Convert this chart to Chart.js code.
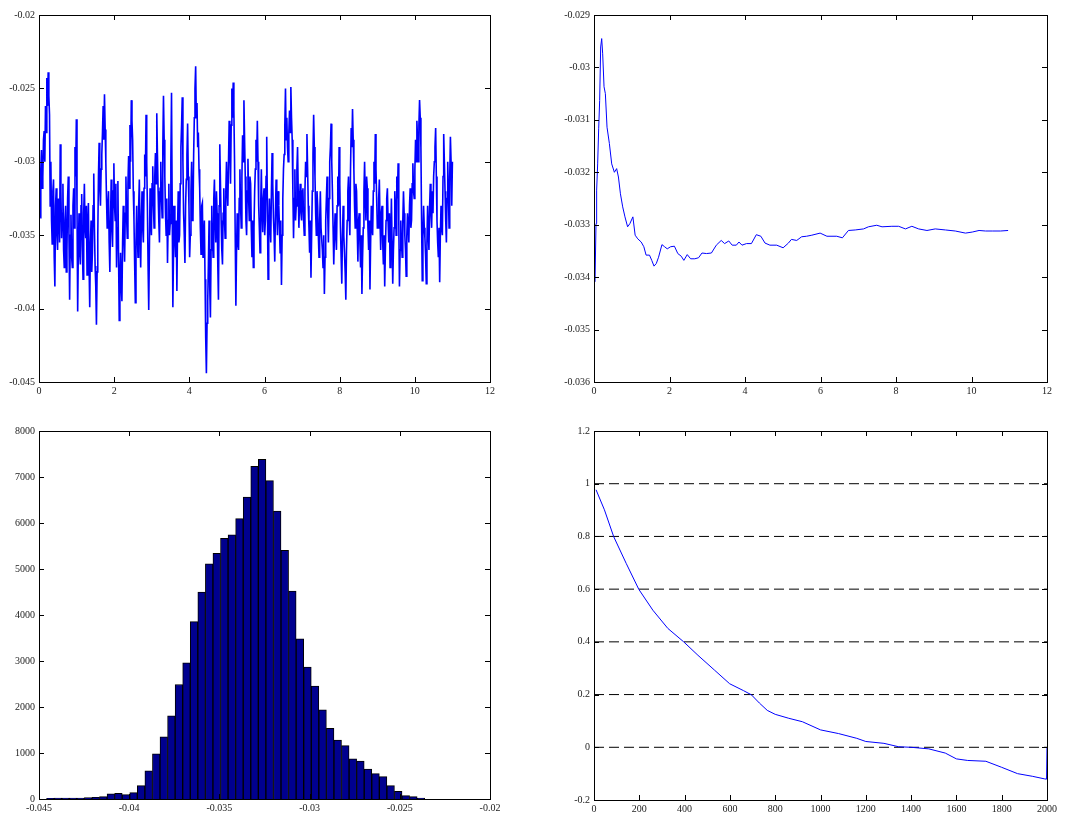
<!DOCTYPE html>
<html>
<head>
<meta charset="utf-8">
<title>MCMC diagnostics</title>
<script src="https://cdn.jsdelivr.net/npm/chart.js@4.4.1/dist/chart.umd.min.js"></script>
<style>
    body { margin: 0; background: #fff; }
    canvas { position: absolute; }
</style>
</head>
<body>
<canvas id="trace_chart" width="539" height="408" style="left:0;top:0"></canvas>
<canvas id="mean_chart" width="538" height="408" style="left:540px;top:0"></canvas>
<canvas id="hist_chart" width="539" height="408" style="left:0;top:408px"></canvas>
<canvas id="acf_chart" width="538" height="408" style="left:540px;top:408px"></canvas>
<script>
// trace of the chain (x in thousands of iterations)
var traceStart = 0.03, traceEnd = 11.0;
var traceValues = [
    -0.0338, -0.0305, -0.0292, -0.0318, -0.0310, -0.0285, -0.0279, -0.0300, -0.0262, -0.0280, -0.0243, -0.0262, -0.0239, -0.0255, -0.0268, -0.0330, -0.0300, -0.0340, -0.0356, -0.0320, -0.0312, -0.0365, -0.0385, -0.0330, -0.0318, -0.0350, -0.0360, -0.0325,
    -0.0330, -0.0355, -0.0288, -0.0320, -0.0352, -0.0335, -0.0315, -0.0360, -0.0372, -0.0340, -0.0330, -0.0375, -0.0361, -0.0325, -0.0310, -0.0350, -0.0394, -0.0350, -0.0336, -0.0365, -0.0372, -0.0330, -0.0318, -0.0345, -0.0290, -0.0310, -0.0271, -0.0330,
    -0.0402, -0.0360, -0.0335, -0.0362, -0.0370, -0.0330, -0.0322, -0.0358, -0.0380, -0.0335, -0.0315, -0.0345, -0.0352, -0.0330, -0.0377, -0.0345, -0.0328, -0.0370, -0.0399, -0.0355, -0.0340, -0.0375, -0.0362, -0.0330, -0.0308, -0.0345, -0.0371, -0.0385,
    -0.0411, -0.0375, -0.0350, -0.0310, -0.0287, -0.0318, -0.0330, -0.0305, -0.0295, -0.0280, -0.0262, -0.0285, -0.0254, -0.0278, -0.0300, -0.0325, -0.0345, -0.0330, -0.0320, -0.0355, -0.0375, -0.0340, -0.0312, -0.0345, -0.0358, -0.0320, -0.0301, -0.0330,
    -0.0340, -0.0315, -0.0372, -0.0345, -0.0313, -0.0365, -0.0408, -0.0380, -0.0362, -0.0385, -0.0395, -0.0355, -0.0330, -0.0350, -0.0368, -0.0335, -0.0310, -0.0338, -0.0352, -0.0315, -0.0296, -0.0318, -0.0275, -0.0300, -0.0258, -0.0272, -0.0285, -0.0320,
    -0.0340, -0.0370, -0.0396, -0.0355, -0.0330, -0.0350, -0.0365, -0.0330, -0.0312, -0.0345, -0.0372, -0.0340, -0.0320, -0.0345, -0.0355, -0.0318, -0.0295, -0.0310, -0.0268, -0.0300, -0.0330, -0.0370, -0.0401, -0.0360, -0.0318, -0.0340, -0.0350, -0.0315,
    -0.0303, -0.0330, -0.0345, -0.0310, -0.0294, -0.0315, -0.0267, -0.0295, -0.0320, -0.0340, -0.0355, -0.0318, -0.0300, -0.0325, -0.0338, -0.0290, -0.0255, -0.0285, -0.0310, -0.0335, -0.0350, -0.0325, -0.0369, -0.0340, -0.0315, -0.0350, -0.0342, -0.0300,
    -0.0253, -0.0330, -0.0399, -0.0360, -0.0330, -0.0350, -0.0365, -0.0340, -0.0388, -0.0345, -0.0320, -0.0355, -0.0350, -0.0315, -0.0290, -0.0275, -0.0256, -0.0300, -0.0335, -0.0350, -0.0369, -0.0330, -0.0312, -0.0295, -0.0274, -0.0310, -0.0330, -0.0365,
    -0.0350, -0.0320, -0.0300, -0.0340, -0.0338, -0.0295, -0.0270, -0.0250, -0.0235, -0.0270, -0.0260, -0.0290, -0.0280, -0.0305, -0.0318, -0.0345, -0.0363, -0.0330, -0.0328, -0.0365, -0.0355, -0.0340, -0.0380, -0.0420, -0.0444, -0.0410, -0.0395, -0.0370,
    -0.0340, -0.0385, -0.0406, -0.0360, -0.0330, -0.0350, -0.0365, -0.0325, -0.0312, -0.0340, -0.0355, -0.0320, -0.0335, -0.0370, -0.0394, -0.0330, -0.0288, -0.0315, -0.0340, -0.0360, -0.0370, -0.0335, -0.0318, -0.0340, -0.0352, -0.0320, -0.0300, -0.0320,
    -0.0330, -0.0300, -0.0272, -0.0290, -0.0315, -0.0275, -0.0250, -0.0270, -0.0246, -0.0265, -0.0300, -0.0350, -0.0398, -0.0360, -0.0335, -0.0355, -0.0360, -0.0325, -0.0305, -0.0330, -0.0345, -0.0310, -0.0282, -0.0300, -0.0258, -0.0285, -0.0310, -0.0340,
    -0.0350, -0.0320, -0.0298, -0.0325, -0.0340, -0.0310, -0.0315, -0.0345, -0.0365, -0.0340, -0.0372, -0.0345, -0.0320, -0.0305, -0.0285, -0.0300, -0.0272, -0.0300, -0.0330, -0.0345, -0.0362, -0.0330, -0.0305, -0.0335, -0.0348, -0.0325, -0.0318, -0.0350,
    -0.0340, -0.0310, -0.0283, -0.0330, -0.0380, -0.0350, -0.0325, -0.0345, -0.0355, -0.0320, -0.0294, -0.0315, -0.0338, -0.0350, -0.0368, -0.0335, -0.0312, -0.0330, -0.0350, -0.0320, -0.0330, -0.0345, -0.0362, -0.0340, -0.0384, -0.0350, -0.0325, -0.0305,
    -0.0295, -0.0275, -0.0250, -0.0285, -0.0270, -0.0290, -0.0300, -0.0280, -0.0265, -0.0280, -0.0249, -0.0270, -0.0285, -0.0320, -0.0352, -0.0325, -0.0305, -0.0340, -0.0330, -0.0305, -0.0290, -0.0320, -0.0345, -0.0325, -0.0315, -0.0335, -0.0340, -0.0320,
    -0.0318, -0.0340, -0.0350, -0.0320, -0.0300, -0.0310, -0.0281, -0.0305, -0.0330, -0.0345, -0.0362, -0.0340, -0.0379, -0.0350, -0.0320, -0.0295, -0.0268, -0.0290, -0.0310, -0.0335, -0.0350, -0.0320, -0.0330, -0.0350, -0.0365, -0.0340, -0.0320, -0.0345,
    -0.0345, -0.0360, -0.0372, -0.0350, -0.0390, -0.0365, -0.0340, -0.0325, -0.0310, -0.0335, -0.0355, -0.0325, -0.0300, -0.0290, -0.0274, -0.0300, -0.0320, -0.0345, -0.0370, -0.0350, -0.0335, -0.0350, -0.0360, -0.0330, -0.0310, -0.0330, -0.0290, -0.0315,
    -0.0345, -0.0365, -0.0383, -0.0350, -0.0330, -0.0350, -0.0362, -0.0375, -0.0394, -0.0360, -0.0340, -0.0320, -0.0310, -0.0335, -0.0350, -0.0305, -0.0277, -0.0290, -0.0264, -0.0285, -0.0305, -0.0330, -0.0345, -0.0315, -0.0320, -0.0345, -0.0368, -0.0340,
    -0.0335, -0.0355, -0.0372, -0.0350, -0.0390, -0.0365, -0.0345, -0.0320, -0.0300, -0.0325, -0.0340, -0.0310, -0.0318, -0.0345, -0.0360, -0.0340, -0.0387, -0.0355, -0.0330, -0.0345, -0.0350, -0.0320, -0.0300, -0.0315, -0.0281, -0.0305, -0.0325, -0.0345,
    -0.0345, -0.0325, -0.0312, -0.0340, -0.0360, -0.0335, -0.0330, -0.0355, -0.0370, -0.0350, -0.0385, -0.0360, -0.0340, -0.0325, -0.0318, -0.0340, -0.0355, -0.0335, -0.0372, -0.0350, -0.0325, -0.0355, -0.0383, -0.0360, -0.0345, -0.0320, -0.0330, -0.0350,
    -0.0310, -0.0325, -0.0301, -0.0340, -0.0385, -0.0360, -0.0340, -0.0355, -0.0365, -0.0340, -0.0320, -0.0335, -0.0350, -0.0360, -0.0378, -0.0350, -0.0335, -0.0345, -0.0355, -0.0330, -0.0318, -0.0345, -0.0340, -0.0315, -0.0301, -0.0320, -0.0325, -0.0305,
    -0.0285, -0.0300, -0.0272, -0.0285, -0.0300, -0.0275, -0.0258, -0.0270, -0.0290, -0.0340, -0.0381, -0.0350, -0.0330, -0.0345, -0.0352, -0.0365, -0.0383, -0.0355, -0.0330, -0.0350, -0.0360, -0.0330, -0.0315, -0.0335, -0.0345, -0.0320, -0.0335, -0.0310,
    -0.0300, -0.0290, -0.0277, -0.0310, -0.0340, -0.0355, -0.0365, -0.0345, -0.0382, -0.0350, -0.0330, -0.0345, -0.0350, -0.0310, -0.0281, -0.0300, -0.0320, -0.0340, -0.0355, -0.0325, -0.0300, -0.0320, -0.0345, -0.0310, -0.0283, -0.0300, -0.0330, -0.0300
];

// running mean
var meanT = [0.027, 0.053, 0.07, 0.097, 0.124, 0.15, 0.177, 0.204, 0.23, 0.266, 0.301, 0.345, 0.407, 0.469, 0.54, 0.60, 0.647, 0.70, 0.76, 0.82,
    0.89, 0.95, 1.03, 1.09, 1.16, 1.25, 1.32, 1.38, 1.47, 1.53, 1.59, 1.65, 1.71, 1.80, 1.87, 1.94, 2.03, 2.13, 2.22, 2.31,
    2.38, 2.47, 2.56, 2.67, 2.77, 2.86, 2.98, 3.11, 3.24, 3.37, 3.46, 3.57, 3.66, 3.77, 3.84, 3.92, 4.04, 4.17, 4.30, 4.42,
    4.53, 4.66, 4.84, 5.01, 5.15, 5.23, 5.37, 5.50, 5.63, 5.77, 5.99, 6.17, 6.43, 6.58, 6.74, 6.92, 7.14, 7.27, 7.49, 7.63,
    7.89, 8.07, 8.25, 8.42, 8.60, 8.82, 9.04, 9.31, 9.57, 9.84, 10.02, 10.20, 10.37, 10.55, 10.77, 10.97];
var meanValues = [-0.03409, -0.03298, -0.03234, -0.03184, -0.03117, -0.03063, -0.02961, -0.02945, -0.02974, -0.03037, -0.0305, -0.03114, -0.03145, -0.03184, -0.032, -0.03193, -0.03209, -0.03241, -0.03266, -0.03285,
    -0.03304, -0.03298, -0.03285, -0.0332, -0.03327, -0.03333, -0.03342, -0.03358, -0.03358, -0.03368, -0.03379, -0.03374, -0.03362, -0.03338, -0.03342, -0.03346, -0.03342, -0.03341, -0.03355, -0.0336,
    -0.03368, -0.03357, -0.03365, -0.03365, -0.03363, -0.03354, -0.03355, -0.03354, -0.03339, -0.0333, -0.03336, -0.03331, -0.03339, -0.03339, -0.03333, -0.03339, -0.03336, -0.03336, -0.03319, -0.03322,
    -0.03335, -0.03339, -0.03339, -0.03344, -0.03335, -0.03328, -0.0333, -0.03323, -0.03322, -0.0332, -0.03316, -0.03322, -0.03322, -0.03325, -0.03311, -0.0331, -0.03308, -0.03304, -0.03301, -0.03304,
    -0.03303, -0.03303, -0.03308, -0.03303, -0.03308, -0.03311, -0.03308, -0.0331, -0.03312, -0.03316, -0.03314, -0.03311, -0.03312, -0.03312, -0.03312, -0.03311];

// histogram, 50 bins
var histLo = -0.04458, histHi = -0.02362;
var histCounts = [15, 20, 20, 20, 20, 30, 35, 50, 110, 125, 95, 140, 290, 615, 980, 1350, 1810, 2490, 2960, 3855,
    4500, 5110, 5340, 5665, 5745, 6095, 6565, 7230, 7385, 6920, 6260, 5405, 4520, 3480, 2870, 2455, 1940, 1535, 1280, 1160,
    875, 825, 650, 550, 485, 290, 165, 75, 50, 20];

// autocorrelation
var acfLags = [9, 46, 87, 142, 198, 260, 326, 396, 459, 533, 599, 660, 695, 730, 765, 800, 860, 920, 1000, 1080,
    1160, 1200, 1280, 1345, 1400, 1478, 1551, 1600, 1650, 1730, 1800, 1870, 1935, 1990, 1998, 2000];
var acfValues = [0.977, 0.901, 0.799, 0.698, 0.599, 0.520, 0.451, 0.400, 0.349, 0.292, 0.241, 0.215, 0.199, 0.168, 0.140, 0.125, 0.110, 0.097, 0.066, 0.052,
    0.034, 0.022, 0.015, 0.002, 0.000, -0.006, -0.022, -0.044, -0.050, -0.053, -0.076, -0.100, -0.110, -0.120, -0.121, 0.0];
var refLevels = [0, 0.2, 0.4, 0.6, 0.8, 1];

var BLUE = '#0000ff';

// box + inward ticks on all four sides
var boxPlugin = {
    id: 'boxPlugin',
    afterDatasetsDraw: function (chart) {
        var a = chart.chartArea, ctx = chart.ctx;
        var xs = chart.scales.x, ys = chart.scales.y;
        ctx.save();
        ctx.strokeStyle = '#000';
        ctx.lineWidth = 1;
        ctx.beginPath();
        xs.ticks.forEach(function (t) {
            var px = Math.round(xs.getPixelForValue(t.value)) + 0.5;
            ctx.moveTo(px, a.bottom); ctx.lineTo(px, a.bottom - 5);
            ctx.moveTo(px, a.top); ctx.lineTo(px, a.top + 5);
        });
        ys.ticks.forEach(function (t) {
            var py = Math.round(ys.getPixelForValue(t.value)) + 0.5;
            ctx.moveTo(a.left, py); ctx.lineTo(a.left + 5, py);
            ctx.moveTo(a.right, py); ctx.lineTo(a.right - 5, py);
        });
        ctx.stroke();
        ctx.strokeRect(a.left + 0.5, a.top + 0.5, a.right - a.left, a.bottom - a.top);
        ctx.restore();
    }
};

function fmt(v) {
    return String(parseFloat(v.toFixed(6)));
}

function axis(min, max, step, size, isX) {
    return {
        type: 'linear',
        min: min,
        max: max,
        offset: false,
        grid: { display: false, drawTicks: false, offset: false },
        border: { display: false },
        ticks: {
            stepSize: step,
            autoSkip: false,
            maxRotation: 0,
            padding: isX ? 3 : 4,
            color: '#222',
            font: { family: 'Liberation Serif', size: 10 },
            callback: fmt
        },
        afterFit: function (s) {
            if (isX) s.height = size; else s.width = size;
        }
    };
}

function baseOptions(pad, xAxis, yAxis) {
    return {
        responsive: false,
        animation: false,
        events: [],
        layout: { padding: pad },
        plugins: { legend: { display: false }, tooltip: { enabled: false } },
        elements: { point: { radius: 0 }, line: { tension: 0 } },
        scales: { x: xAxis, y: yAxis }
    };
}

function pairs(xs, ys) {
    return ys.map(function (y, i) { return { x: xs[i], y: y }; });
}

var traceStep = (traceEnd - traceStart) / (traceValues.length - 1);
var traceT = traceValues.map(function (v, i) { return traceStart + i * traceStep; });

new Chart(document.getElementById('trace_chart'), {
    type: 'line',
    data: {
        datasets: [{
            data: pairs(traceT, traceValues),
            borderColor: BLUE,
            borderWidth: 1.6
        }]
    },
    options: baseOptions({ top: 15, right: 49, left: 0, bottom: 0 },
        axis(0, 12, 2, 26, true), axis(-0.045, -0.02, 0.005, 39, false)),
    plugins: [boxPlugin]
});

new Chart(document.getElementById('mean_chart'), {
    type: 'line',
    data: {
        datasets: [{
            data: pairs(meanT, meanValues),
            borderColor: BLUE,
            borderWidth: 1
        }]
    },
    options: baseOptions({ top: 15, right: 31, left: 0, bottom: 0 },
        axis(0, 12, 2, 26, true), axis(-0.036, -0.029, 0.001, 54, false)),
    plugins: [boxPlugin]
});

var binWidth = (histHi - histLo) / histCounts.length;
var binCenters = histCounts.map(function (c, i) { return histLo + (i + 0.5) * binWidth; });

new Chart(document.getElementById('hist_chart'), {
    type: 'bar',
    data: {
        datasets: [{
            data: pairs(binCenters, histCounts),
            backgroundColor: '#00008f',
            borderColor: '#000',
            borderWidth: 1,
            barPercentage: 1,
            categoryPercentage: 1,
            grouped: false
        }]
    },
    options: baseOptions({ top: 23, right: 49, left: 0, bottom: 0 },
        axis(-0.045, -0.02, 0.005, 17, true), axis(0, 8000, 1000, 39, false)),
    plugins: [boxPlugin]
});

var acfSets = [{
    data: pairs(acfLags, acfValues),
    borderColor: BLUE,
    borderWidth: 1
}];
refLevels.forEach(function (lvl) {
    acfSets.push({
        data: [{ x: 0, y: lvl }, { x: 2000, y: lvl }],
        borderColor: '#000',
        borderWidth: 1,
        borderDash: [10, 5]
    });
});

new Chart(document.getElementById('acf_chart'), {
    type: 'line',
    data: { datasets: acfSets },
    options: baseOptions({ top: 23, right: 31, left: 0, bottom: 0 },
        axis(0, 2000, 200, 16, true), axis(-0.2, 1.2, 0.2, 54, false)),
    plugins: [boxPlugin]
});
</script>
</body>
</html>
